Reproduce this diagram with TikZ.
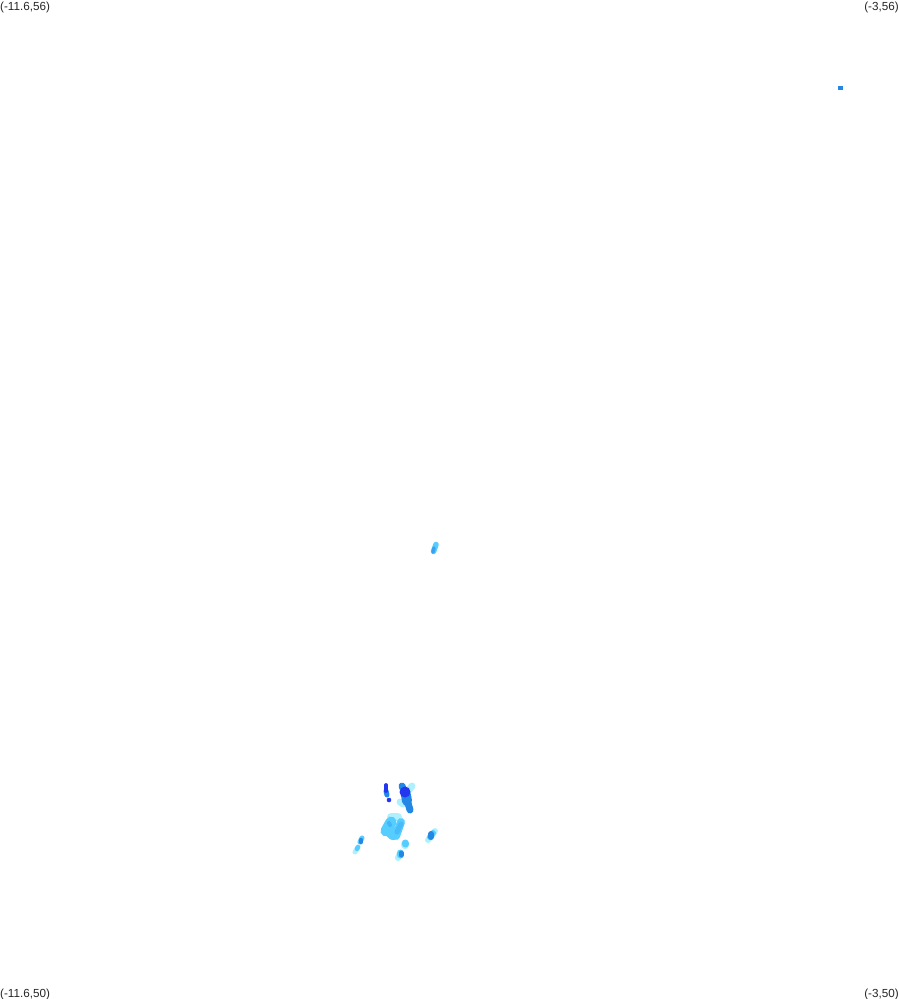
\documentclass[tikz,border=0pt]{standalone}
\usepackage{fontspec}
\setmainfont{Liberation Sans}
\definecolor{palecyan}{RGB}{175,240,255}
\definecolor{midcyan}{RGB}{85,205,255}
\definecolor{midblue}{RGB}{35,135,230}
\definecolor{darkblue}{RGB}{35,55,240}
\tikzset{
	cornerlabel/.style={inner sep=0pt,font=\fontsize{11.7}{12}\selectfont,text=black!85},
	blob/.style={line cap=round,line join=round,line width=#1},
	blob/.default=5pt
}
\begin{document}
\begin{tikzpicture}[x=1pt,y=-1pt]

	\useasboundingbox (0,0) rectangle (899,999);

	\node[cornerlabel,anchor=west] (topleft) at (0,7.5) {(-11.6,56)};
	\node[cornerlabel,anchor=east] (topright) at (899,7.5) {(-3,56)};
	\node[cornerlabel,anchor=west] (bottomleft) at (0,994.5) {(-11.6,50)};
	\node[cornerlabel,anchor=east] (bottomright) at (899,994.5) {(-3,50)};

	% top right
	\fill[midblue] (837.5,86) rectangle (843,90);

	% middle
	\draw[blob=5.5pt,midcyan] (436,544.5) -- (433.5,551.5);
	\draw[blob=3.5pt,midblue!60!midcyan] (434,548) -- (433,552);

	% pale parts of the lower group
	\draw[blob=7pt,palecyan] (412,786) -- (408,791);
	\draw[blob=7pt,palecyan] (400,802) -- (403,804);
	\draw[blob=8pt,palecyan] (391,817) -- (398,817);
	\draw[blob=5pt,palecyan] (355,852) -- (358,847);
	\draw[blob=6pt,palecyan] (398,858) -- (400,853);
	\draw[blob=8.5pt,palecyan] (405,844) -- (405,845);
	\draw[blob=6pt,palecyan] (428,840) -- (435,831);

	% mid cyan
	\draw[blob=11pt,midcyan] (386,831) -- (391,822);
	\draw[blob=12pt,midcyan] (389,830) -- (393,834);
	\draw[blob=8pt,midcyan] (401,822) -- (396,836);
	\draw[blob=5pt,midcyan] (362,838) -- (360,842);
	\draw[blob=4.5pt,midcyan] (358,847) -- (357,849);
	\draw[blob=7pt,midcyan] (405,843) -- (405,844);
	\draw[blob=7pt,midcyan] (400,853) -- (400,855);
	\draw[blob=6pt,midcyan] (433,833) -- (430,837);

	% blue
	\draw[blob=5pt,midblue!25!midcyan] (401,824) -- (397,832);
	\draw[blob=4pt,midblue!35!midcyan] (389,823) -- (390,825);
	\draw[blob=4.5pt,midblue] (361,840) -- (361,842);
	\draw[blob=5pt,midblue] (401,853) -- (401,855);
	\draw[blob=6pt,midblue] (431,834) -- (431,837);
	\draw[blob=7pt,midblue] (402,786) -- (405,793);
	\draw[blob=10pt,midblue] (406,795) -- (407,801);
	\draw[blob=7pt,midblue] (408,803) -- (410,810);
	\draw[blob=5pt,midblue] (386,791) -- (387,795);

	% dark blue
	\draw[blob=3.8pt,darkblue] (386,785) -- (386,791);
	\fill[darkblue] (389,800) circle (2.3pt);
	\fill[darkblue] (405,792) circle (5.5pt);

\end{tikzpicture}
\end{document}
